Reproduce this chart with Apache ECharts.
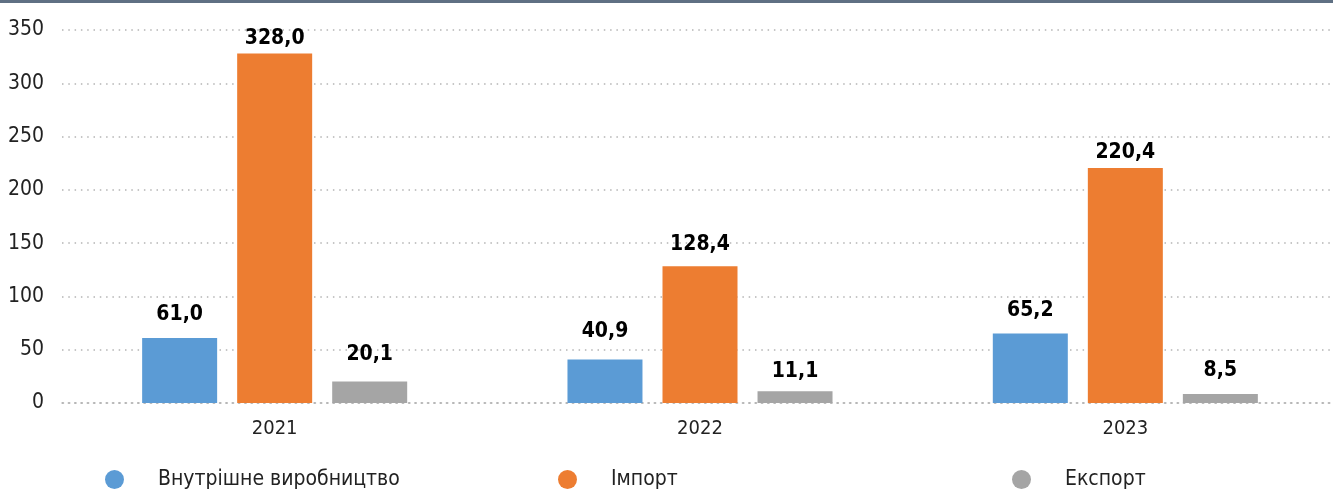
<!DOCTYPE html>
<html>
<head>
<meta charset="utf-8">
<script src="https://cdn.jsdelivr.net/npm/echarts@6/dist/echarts.min.js"></script>
<style>
  html, body { margin: 0; padding: 0; background: #fff; }
  #chart { width: 1333px; height: 490px; }
</style>
</head>
<body>
<div id="chart"></div>
<script>
const years = ['2021', '2022', '2023'];
const domestic = [61.0, 40.9, 65.2];
const imports = [328.0, 128.4, 220.4];
const exports = [20.1, 11.1, 8.5];
const seriesNames = ['Внутрішне виробництво', 'Імпорт', 'Експорт'];
const colors = ['#5b9bd5', '#ed7d31', '#a5a5a5'];

// label nudges (px, down is positive), the labels in the original are hand placed
const nudgeDomestic = [-1, -5, 0];
const nudgeImports = [8, 1, 7];
const nudgeExports = [-5, 3, -1];

const font = '"Liberation Sans Narrow", "DejaVu Sans Condensed", sans-serif';

const chart = echarts.init(document.getElementById('chart'));

const fmt = p => p.value.toFixed(1).replace('.', ',');

const makeSeries = (name, values, color, nudge) => ({
    name: name,
    type: 'bar',
    data: values.map((v, i) => ({ value: v, label: { offset: [0, nudge[i]] } })),
    barWidth: 75,
    barGap: '26.7%',
    barCategoryGap: '37.7%',
    itemStyle: { color: color },
    label: {
        show: true,
        position: 'top',
        distance: 12,
        formatter: fmt,
        fontFamily: font,
        fontWeight: 'bold',
        fontSize: 21,
        color: '#000'
    }
});

const legendAt = (name, left) => ({
    data: [name],
    left: left,
    top: 464,
    icon: 'circle',
    itemWidth: 19,
    itemHeight: 19,
    itemGap: 0,
    textStyle: { fontFamily: font, fontSize: 21, color: '#222', padding: [0, 0, 0, 29] },
    selectedMode: false
});

const dots = { color: '#b4b4b4', type: [1.5, 4.8], width: 1.5 };

chart.setOption({
    animation: false,
    grid: { left: 62, width: 1276, top: 30, bottom: 87, outerBoundsMode: 'none' },
    graphic: [{
        type: 'rect',
        shape: { x: 0, y: 0, width: 1333, height: 3 },
        style: { fill: '#5f7083' }
    }],
    legend: [
        legendAt(seriesNames[0], 100),
        legendAt(seriesNames[1], 553),
        legendAt(seriesNames[2], 1007)
    ],
    xAxis: {
        type: 'category',
        data: years,
        axisTick: { show: false },
        axisLine: { show: true, lineStyle: dots },
        axisLabel: { fontFamily: font, fontSize: 20, color: '#222', margin: 16 }
    },
    yAxis: {
        type: 'value',
        min: 0,
        max: 350,
        interval: 50,
        axisLine: { show: false },
        axisTick: { show: false },
        splitLine: { lineStyle: dots },
        axisLabel: { fontFamily: font, fontSize: 21, color: '#222', margin: 18 }
    },
    series: [
        makeSeries(seriesNames[0], domestic, colors[0], nudgeDomestic),
        makeSeries(seriesNames[1], imports, colors[1], nudgeImports),
        makeSeries(seriesNames[2], exports, colors[2], nudgeExports)
    ]
});
</script>
</body>
</html>
